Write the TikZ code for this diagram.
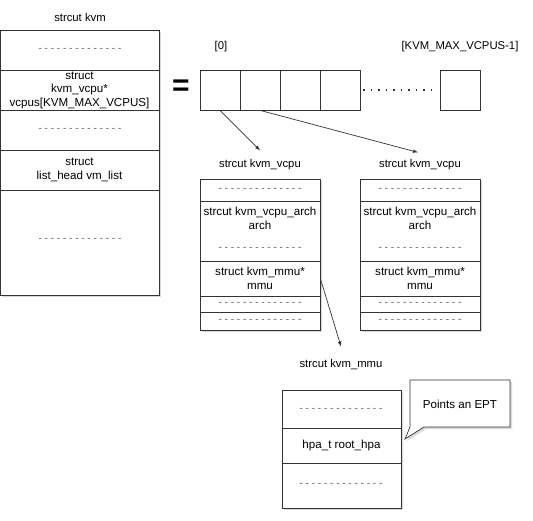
\documentclass[tikz,border=0pt]{standalone}
\usepackage{fontspec}
\setmainfont{Liberation Sans}
\usetikzlibrary{positioning}

\newcommand{\filler}{- - - - - - - - - - - - - -}

\tikzset{
	field/.style = {draw = black!80, fill = white, inner sep = 0, align = center,
		font = \fontsize{11.6}{13.5}\selectfont},
	gap/.style = {text = black!65, inner sep = 0, font = \fontsize{10}{10}\selectfont},
	label/.style = {inner sep = 1, font = \fontsize{11.3}{13}\selectfont},
	cell/.style = {draw = black!80, fill = white, minimum size = 40, inner sep = 0},
	shade/.style = {fill = black!15}
}

\begin{document}
\begin{tikzpicture}[> = latex, x = 1pt, y = -1pt, line width = 0.7pt]

	\useasboundingbox (0, 0) rectangle (533, 520);

	% struct kvm
	
	\node [label] (kvm title) at (80, 17) {strcut kvm};
	\fill [shade] (2, 32) rectangle (161, 297);
	\node [field, minimum width = 159, minimum height = 40] (kvm head) at (79.5, 50) {};
	\node [field, minimum width = 159, minimum height = 40] (kvm vcpus) at (79.5, 90)
		{struct\\kvm\_vcpu*\\vcpus[KVM\_MAX\_VCPUS]};
	\node [field, minimum width = 159, minimum height = 40] (kvm mid) at (79.5, 130) {};
	\node [field, minimum width = 159, minimum height = 40] (kvm list) at (79.5, 170)
		{struct\\list\_head vm\_list};
	\node [field, minimum width = 159, minimum height = 105] (kvm tail) at (79.5, 242.5) {};
	
	\node [gap] at (80, 50) {\filler};
	\node [gap] at (80, 130) {\filler};
	\node [gap] at (80, 240) {\filler};
	
	\node [inner sep = 0, font = \fontsize{30}{30}\selectfont\bfseries] (equals) at (181, 88) {=};

	% The vcpus array
	
	\foreach \i in {0, ..., 3}
		\node [cell] (cell\i) at (220 + 40 * \i, 90) {};
	\node [cell] (cell last) at (460, 90) {};
	\draw [dash pattern = on 1.5pt off 6pt, line width = 1.2pt, black!80, shorten < = 3pt, shorten > = 2pt]
		(cell3.east) -- (cell last.west);
	
	\node [label] (first idx) at (221, 47) {[0]};
	\node [label] (last idx) at (460, 47) {[KVM\_MAX\_VCPUS-1]};

	% struct kvm_vcpu (two of them)
	
	\foreach \x/\n in {260/1, 420/2} {
		\node [label] (vcpu title\n) at (\x, 165) {strcut kvm\_vcpu};
		\fill [shade] (\x - 58, 181) rectangle (\x + 62, 332);
		\node [field, minimum width = 120, minimum height = 22] (vcpu head\n) at (\x, 190) {};
		\node [field, minimum width = 120, minimum height = 60] (vcpu arch\n) at (\x, 231) {};
		\node [field, minimum width = 120, minimum height = 35] (vcpu mmu\n) at (\x, 278.5)
			{struct kvm\_mmu*\\mmu};
		\node [field, minimum width = 120, minimum height = 16] (vcpu pad\n) at (\x, 304) {};
		\node [field, minimum width = 120, minimum height = 18] (vcpu tail\n) at (\x, 321) {};
		
		\node [label, align = center, font = \fontsize{11.6}{13.5}\selectfont] at (\x, 218.5)
			{strcut kvm\_vcpu\_arch\\arch};
		\node [gap] at (\x, 190) {\filler};
		\node [gap] at (\x, 249) {\filler};
		\node [gap] at (\x, 304) {\filler};
		\node [gap] at (\x, 321) {\filler};
	}

	% struct kvm_mmu
	
	\node [label] (mmu title) at (341, 365) {strcut kvm\_mmu};
	\fill [shade] (284, 392) rectangle (403, 510);
	\node [field, minimum width = 119, minimum height = 38] (mmu head) at (341.5, 409) {};
	\node [field, minimum width = 119, minimum height = 35] (mmu root) at (341.5, 445.5)
		{hpa\_t root\_hpa};
	\node [field, minimum width = 119, minimum height = 45] (mmu tail) at (341.5, 485.5) {};
	
	\node [gap] at (341, 410) {\filler};
	\node [gap] at (341, 485) {\filler};

	% Callout
	
	\fill [shade] (412, 382) -- (512, 382) -- (512, 429) -- (426, 429) -- (407, 441) -- (412, 429) -- cycle;
	\draw [black!80, fill = white] (410, 380) -- (510, 380) -- (510, 427) -- (424, 427)
		-- (405, 439) -- (410, 427) -- cycle;
	\node [label, font = \fontsize{11.6}{13}\selectfont] (ept note) at (460, 404) {Points an EPT};

	% Pointers
	
	\draw [->, black!80] (cell0.south) -- ([yshift = 8pt] vcpu title1.north);
	\draw [->, black!80] (cell1.south) -- ([xshift = -2pt, yshift = 6pt] vcpu title2.north);
	\draw [->, black!80] (vcpu mmu1.east) -- ([yshift = 12pt] mmu title.north);

\end{tikzpicture}
\end{document}
